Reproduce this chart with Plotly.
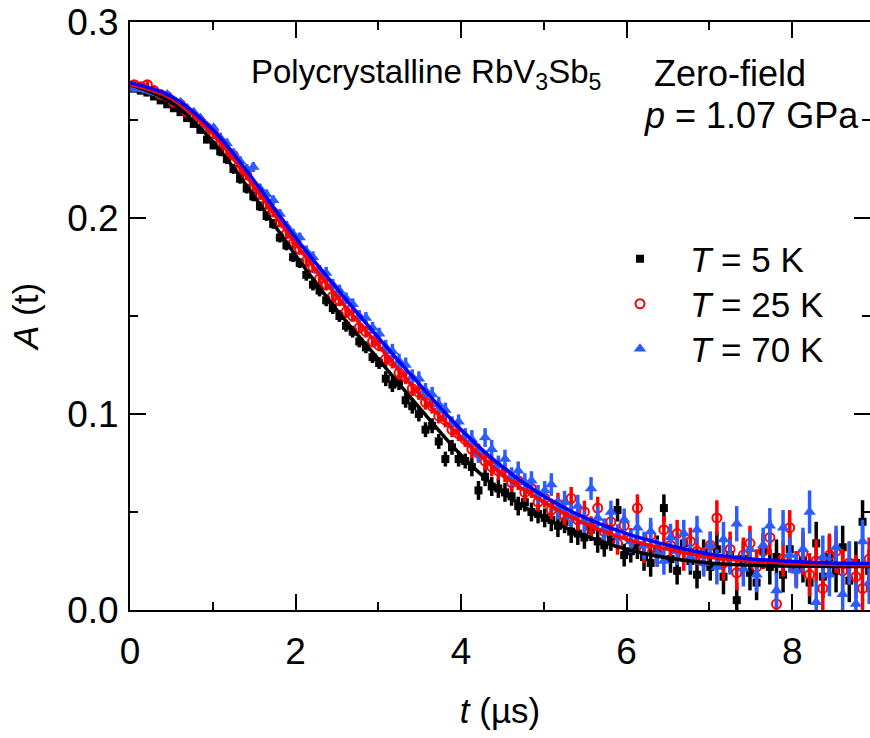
import plotly.graph_objects as go

# ---- data ----
times = [0.05,0.13,0.21,0.29,0.37,0.45,0.53,0.61,0.69,0.77,0.85,0.93,
         1.01,1.09,1.17,1.25,1.33,1.41,1.49,1.57,1.65,1.73,1.81,1.89,1.97,
         2.05,2.13,2.21,2.29,2.37,2.45,2.53,2.61,2.69,2.77,2.85,2.93,
         3.01,3.09,3.17,3.25,3.33,3.41,3.49,3.57,3.65,3.73,3.81,3.89,3.97,
         4.05,4.13,4.21,4.29,4.37,4.45,4.53,4.61,4.69,4.77,4.85,4.93,
         5.01,5.09,5.17,5.25,5.33,5.41,5.49,5.57,5.65,5.73,5.81,5.89,5.97,
         6.05,6.13,6.21,6.29,6.37,6.45,6.53,6.61,6.69,6.77,6.85,6.93,
         7.01,7.09,7.17,7.25,7.33,7.41,7.49,7.57,7.65,7.73,7.81,7.89,7.97,
         8.05,8.13,8.21,8.29,8.37,8.45,8.53,8.61,8.69,8.77,8.85,8.93]

a_5K = [0.266,0.265,0.264,0.262,0.260,0.258,0.256,0.254,0.251,0.248,0.245,0.240,
        0.237,0.234,0.230,0.225,0.220,0.215,0.211,0.206,0.201,0.197,0.190,0.186,0.180,
        0.177,0.171,0.166,0.163,0.158,0.154,0.150,0.145,0.142,0.137,0.134,0.129,
        0.126,0.118,0.115,0.116,0.107,0.104,0.100,0.092,0.094,0.086,0.077,0.083,0.077,
        0.076,0.073,0.061,0.068,0.063,0.062,0.060,0.058,0.053,0.055,0.050,0.049,
        0.047,0.046,0.043,0.045,0.040,0.039,0.037,0.041,0.035,0.033,0.036,0.051,0.028,
        0.030,0.033,0.027,0.024,0.031,0.052,0.026,0.020,0.034,0.025,0.018,0.029,
        0.022,0.031,0.017,0.028,0.005,0.026,0.019,0.014,0.030,0.022,0.027,0.018,0.031,
        0.021,0.025,0.014,0.034,0.017,0.027,0.020,0.032,0.015,0.024,0.045,0.020]

a_25K = [0.268,0.267,0.268,0.265,0.263,0.262,0.259,0.258,0.254,0.252,0.249,0.246,
         0.243,0.238,0.234,0.232,0.225,0.222,0.216,0.212,0.207,0.203,0.198,0.192,0.187,
         0.184,0.178,0.175,0.169,0.166,0.160,0.158,0.152,0.150,0.144,0.142,0.137,
         0.135,0.128,0.127,0.121,0.119,0.113,0.111,0.106,0.104,0.099,0.097,0.092,0.090,
         0.087,0.082,0.080,0.076,0.073,0.071,0.070,0.065,0.066,0.060,0.062,0.055,
         0.057,0.051,0.054,0.048,0.057,0.046,0.050,0.042,0.052,0.040,0.045,0.034,0.043,
         0.036,0.052,0.031,0.038,0.029,0.041,0.033,0.039,0.027,0.035,0.030,0.025,
         0.033,0.047,0.024,0.031,0.019,0.028,0.034,0.022,0.030,0.037,0.003,0.026,0.042,
         0.021,0.029,0.018,0.025,0.011,0.028,0.030,0.020,0.024,0.017,0.011,0.026]

a_70K = [0.266,0.266,0.265,0.264,0.263,0.263,0.260,0.259,0.256,0.254,0.251,0.247,
         0.246,0.241,0.238,0.233,0.229,0.225,0.226,0.215,0.212,0.209,0.202,0.196,0.192,
         0.190,0.183,0.180,0.173,0.172,0.166,0.163,0.159,0.156,0.150,0.149,0.144,
         0.141,0.134,0.132,0.127,0.125,0.119,0.118,0.112,0.110,0.105,0.102,0.095,0.096,
         0.089,0.087,0.080,0.088,0.082,0.074,0.077,0.068,0.071,0.065,0.066,0.059,
         0.061,0.064,0.052,0.055,0.048,0.053,0.045,0.062,0.047,0.041,0.050,0.038,0.046,
         0.035,0.042,0.033,0.040,0.029,0.025,0.037,0.030,0.039,0.027,0.041,0.024,
         0.033,0.022,0.036,0.027,0.044,0.021,0.031,0.018,0.033,0.043,0.010,0.042,0.028,
         0.020,0.031,0.050,0.004,0.027,0.018,0.032,0.008,0.024,0.003,0.035,0.014]

errors = [0.0018]*13 + [0.0025]*13 + [0.003]*12 + [0.0038]*13 + [0.0048]*12 + \
         [0.0058]*13 + [0.007]*12 + [0.009]*13 + [0.011]*11

fit_t = [0,0.5,1.0,1.5,2.0,2.5,3.0,3.5,4.0,4.5,5.0,5.5,6.0,6.5,7.0,7.5,8.0,8.5,9.0]
fit_5K = [0.268,0.259,0.239,0.211,0.181,0.153,0.128,0.103,0.079,0.060,0.047,0.038,
          0.031,0.0265,0.024,0.0228,0.0224,0.0222,0.0222]
fit_25K = [0.268,0.261,0.243,0.216,0.187,0.160,0.135,0.110,0.088,0.069,0.055,0.044,
           0.036,0.031,0.027,0.025,0.0238,0.0232,0.023]
fit_70K = [0.269,0.262,0.245,0.219,0.190,0.164,0.139,0.115,0.092,0.073,0.058,0.047,
           0.039,0.033,0.0285,0.026,0.0248,0.024,0.0237]

labels = ["<i>T</i> = 5 K", "<i>T</i> = 25 K", "<i>T</i> = 70 K"]

FONT = "Liberation Sans, Arial, sans-serif"
BLACK = "#000000"
RED = "#ff0000"
BLUE_PT = "#2b5cff"
BLUE_LN = "#0000ff"

# figure fills the whole window (body margin removed below)
W, H = 870, 738
ML, MT, MB = 130, 22, 128
PW, PH = W - ML, H - MT - MB

def px_x(sx):   # screen x -> paper x
    return (sx - ML) / PW

def px_y(sy):   # screen y -> paper y
    return (H - MB - sy) / PH

fig = go.Figure()

series = [
    (a_5K, BLACK, dict(symbol="square", size=8, color=BLACK), labels[0], "legend"),
    (a_25K, RED, dict(symbol="circle-open", size=9, color=RED, line=dict(width=2, color=RED)), labels[1], "legend2"),
    (a_70K, BLUE_PT, dict(symbol="triangle-up", size=11, color=BLUE_PT), labels[2], "legend3"),
]
for vals, col, mk, name, lg in series:
    fig.add_trace(go.Scatter(
        x=times, y=vals, mode="markers", name=name, legend=lg,
        marker=mk,
        error_y=dict(type="data", array=errors, visible=True, color=col, thickness=3.5, width=0),
    ))

for fv, col in [(fit_5K, BLACK), (fit_25K, RED), (fit_70K, BLUE_LN)]:
    fig.add_trace(go.Scatter(
        x=fit_t, y=fv, mode="lines", line=dict(color=col, width=3.5, shape="spline"),
        showlegend=False, hoverinfo="skip",
    ))

axis_common = dict(
    showline=True, linecolor="black", linewidth=2, mirror="ticks",
    ticks="inside", ticklen=16, tickwidth=2, tickcolor="black",
    showgrid=False, zeroline=False, automargin=False,
    ticklabeloverflow="allow",
    tickfont=dict(family=FONT, size=37, color="black"),
)

fig.update_xaxes(
    range=[0, 8.94], dtick=2, tick0=0,
    minor=dict(ticks="inside", ticklen=8, tickwidth=2, tickcolor="black", dtick=1),
    ticklabelstandoff=8,
    title=dict(text="<i>t</i> (µs)", font=dict(family=FONT, size=35, color="black"), standoff=27),
    **axis_common,
)
fig.update_yaxes(
    range=[0, 0.3], dtick=0.1, tick0=0, tickformat=".1f",
    minor=dict(ticks="inside", ticklen=8, tickwidth=2, tickcolor="black", dtick=0.05),
    ticklabelstandoff=2,
    title=dict(text="<i>A</i> (t)", font=dict(family=FONT, size=35, color="black"), standoff=18),
    **axis_common,
)

fig.add_annotation(text="Polycrystalline RbV<sub>3</sub>Sb<sub>5</sub>", xref="paper", yref="paper",
                   x=px_x(249), y=px_y(74), xanchor="left", yanchor="middle",
                   showarrow=False, font=dict(family=FONT, size=33, color="black"))
fig.add_annotation(text="Zero-field", xref="paper", yref="paper",
                   x=px_x(652), y=px_y(73), xanchor="left", yanchor="middle",
                   showarrow=False, font=dict(family=FONT, size=36, color="black"))
fig.add_annotation(text="<i>p</i> = 1.07 GPa", xref="paper", yref="paper",
                   x=px_x(642), y=px_y(115), xanchor="left", yanchor="middle",
                   showarrow=False, font=dict(family=FONT, size=36, color="black"))

leg_common = dict(xanchor="left", yanchor="middle",
                  font=dict(family=FONT, size=35, color="black"),
                  bgcolor="rgba(0,0,0,0)", itemwidth=90, itemsizing="trace")

fig.update_layout(
    width=W, height=H,
    margin=dict(l=ML, r=0, t=MT, b=MB),
    paper_bgcolor="white", plot_bgcolor="white",
    showlegend=True,
    legend=dict(x=px_x(590), y=px_y(259), **leg_common),
    legend2=dict(x=px_x(590), y=px_y(304), **leg_common),
    legend3=dict(x=px_x(590), y=px_y(349), **leg_common),
)

fig.write_html("out.html",
               config={"displayModeBar": False},
               post_script="document.body.style.margin='0';document.body.style.overflow='hidden';")
